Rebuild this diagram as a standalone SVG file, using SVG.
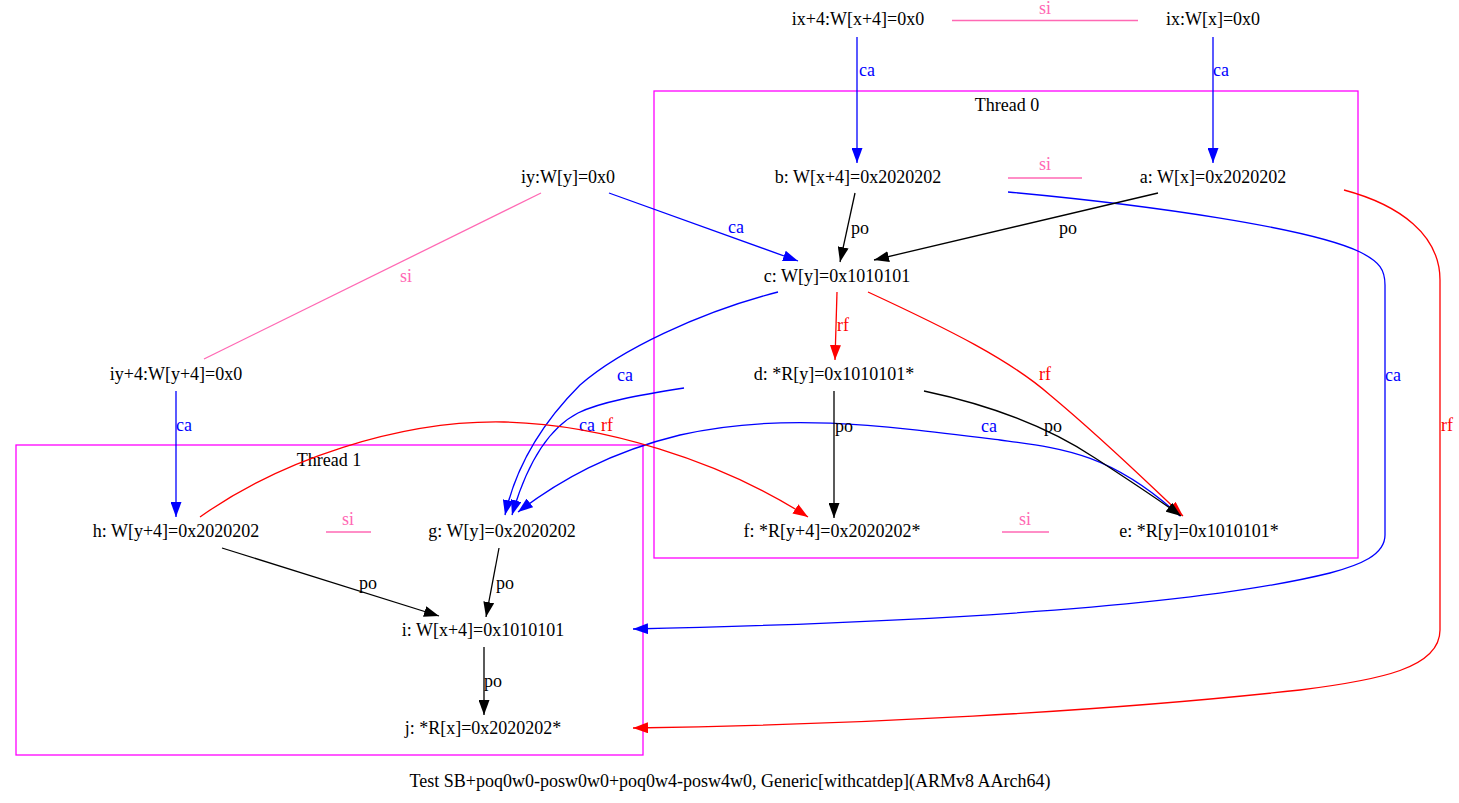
<svg xmlns="http://www.w3.org/2000/svg" width="1459" height="803" viewBox="0 0 1459 803">
<defs>
<style>
text{font-family:"Liberation Serif","Times New Roman",serif;font-size:18px;text-anchor:middle;}
.n{fill:#000;}
.e{fill:none;stroke-width:1.3;}
.blue{stroke:#0000ff;}
.red{stroke:#ff0000;}
.blk{stroke:#000000;}
.pink{stroke:#ff69b4;}
.lb{fill:#0000ff;}
.lr{fill:#ff0000;}
.lk{fill:#000000;}
.lp{fill:#ff69b4;}
.cl{fill:none;stroke:#ff00ff;stroke-width:1.3;}
</style>
<marker id="ab" viewBox="0 0 15 11" refX="15" refY="5.5" markerWidth="15" markerHeight="11" markerUnits="userSpaceOnUse" orient="auto"><path d="M0,0L15,5.5L0,11z" fill="#0000ff"/></marker>
<marker id="ar" viewBox="0 0 15 11" refX="15" refY="5.5" markerWidth="15" markerHeight="11" markerUnits="userSpaceOnUse" orient="auto"><path d="M0,0L15,5.5L0,11z" fill="#ff0000"/></marker>
<marker id="ak" viewBox="0 0 15 11" refX="15" refY="5.5" markerWidth="15" markerHeight="11" markerUnits="userSpaceOnUse" orient="auto"><path d="M0,0L15,5.5L0,11z" fill="#000000"/></marker>
</defs>
<rect width="1459" height="803" fill="#ffffff"/>

<g id="clusters">
<g id="cluster-thread0"><rect class="cl" x="654" y="91" width="704" height="467"/><text class="n" x="1007" y="111">Thread 0</text></g>
<g id="cluster-thread1"><rect class="cl" x="16" y="445" width="627" height="310"/><text class="n" x="329" y="466">Thread 1</text></g>
</g>

<g id="edges">
<!-- si links -->
<line class="e pink" x1="952" y1="20.5" x2="1138" y2="20.5"/><text class="lp" x="1045" y="14">si</text>
<line class="e pink" x1="1008" y1="178" x2="1082" y2="178"/><text class="lp" x="1045" y="170">si</text>
<line class="e pink" x1="541" y1="193" x2="204" y2="359"/><text class="lp" x="406" y="282">si</text>
<line class="e pink" x1="326" y1="532" x2="371" y2="532"/><text class="lp" x="348" y="525">si</text>
<line class="e pink" x1="1002" y1="532" x2="1049" y2="532"/><text class="lp" x="1025" y="525">si</text>

<!-- ca -->
<path class="e blue" d="M857,37L857,163" marker-end="url(#ab)"/><text class="lb" x="867" y="76">ca</text>
<path class="e blue" d="M1213,37L1213,163" marker-end="url(#ab)"/><text class="lb" x="1221" y="76">ca</text>
<path class="e blue" d="M609,193L798,261" marker-end="url(#ab)"/><text class="lb" x="736" y="233">ca</text>
<path class="e blue" d="M176,391L176,517" marker-end="url(#ab)"/><text class="lb" x="184" y="431">ca</text>
<path class="e blue" d="M1008,192C1150,205 1310,228 1360,252C1380,262 1385,270 1385,285L1385,535C1385,555 1360,565 1330,573C1200,605 950,622 633,629" marker-end="url(#ab)"/><text class="lb" x="1393" y="381">ca</text>
<path class="e blue" d="M778,292C700,312 620,350 580,385C540,425 515,470 505,515" marker-end="url(#ab)"/><text class="lb" x="625" y="381">ca</text>
<path class="e blue" d="M684,388C640,395 600,402 578,413C545,430 525,470 512,515" marker-end="url(#ab)"/><text class="lb" x="587" y="431">ca</text>
<path class="e blue" d="M1180,516C1110,452 1060,448 1000,440C880,425 780,412 680,435C610,452 560,480 518,512" marker-end="url(#ab)"/><text class="lb" x="989" y="432">ca</text>

<!-- rf -->
<path class="e red" d="M837,292L835,360" marker-end="url(#ar)"/><text class="lr" x="843" y="331">rf</text>
<path class="e red" d="M868,292C950,330 1010,360 1050,395C1110,445 1160,495 1183,516" marker-end="url(#ar)"/><text class="lr" x="1045" y="380">rf</text>
<path class="e red" d="M200,517C280,460 400,420 504,422C600,424 720,460 808,517" marker-end="url(#ar)"/><text class="lr" x="607" y="431">rf</text>
<path class="e red" d="M1344,190C1400,205 1440,235 1440,280L1440,630C1440,668 1380,680 1300,690C1100,712 850,725 633,728" marker-end="url(#ar)"/><text class="lr" x="1447" y="431">rf</text>

<!-- po -->
<path class="e blk" d="M855,193L840,262" marker-end="url(#ak)"/><text class="lk" x="860" y="234">po</text>
<path class="e blk" d="M1158,193L874,260" marker-end="url(#ak)"/><text class="lk" x="1068" y="234">po</text>
<path class="e blk" d="M834,391L834,518" marker-end="url(#ak)"/><text class="lk" x="844" y="432">po</text>
<path class="e blk" d="M924,391C990,405 1050,428 1095,458C1135,484 1162,502 1181,516" marker-end="url(#ak)"/><text class="lk" x="1053" y="432">po</text>
<path class="e blk" d="M222,548L439,616" marker-end="url(#ak)"/><text class="lk" x="368" y="589">po</text>
<path class="e blk" d="M499,548L486,617" marker-end="url(#ak)"/><text class="lk" x="505" y="589">po</text>
<path class="e blk" d="M484,647L484,715" marker-end="url(#ak)"/><text class="lk" x="493" y="687">po</text>
</g>

<g id="node-ix4"><text class="n" x="858" y="25">ix+4:W[x+4]=0x0</text></g>
<g id="node-ix"><text class="n" x="1213" y="25">ix:W[x]=0x0</text></g>
<g id="node-b"><text class="n" x="858" y="183">b: W[x+4]=0x2020202</text></g>
<g id="node-a"><text class="n" x="1213" y="183">a: W[x]=0x2020202</text></g>
<g id="node-iy"><text class="n" x="568" y="183">iy:W[y]=0x0</text></g>
<g id="node-c"><text class="n" x="837" y="282">c: W[y]=0x1010101</text></g>
<g id="node-d"><text class="n" x="834" y="380">d: *R[y]=0x1010101*</text></g>
<g id="node-iy4"><text class="n" x="176" y="380">iy+4:W[y+4]=0x0</text></g>
<g id="node-h"><text class="n" x="176" y="537">h: W[y+4]=0x2020202</text></g>
<g id="node-g"><text class="n" x="502" y="537">g: W[y]=0x2020202</text></g>
<g id="node-f"><text class="n" x="832" y="537">f: *R[y+4]=0x2020202*</text></g>
<g id="node-e"><text class="n" x="1199" y="537">e: *R[y]=0x1010101*</text></g>
<g id="node-i"><text class="n" x="483" y="636">i: W[x+4]=0x1010101</text></g>
<g id="node-j"><text class="n" x="483" y="734">j: *R[x]=0x2020202*</text></g>

<g id="title"><text class="n" x="730" y="787">Test SB+poq0w0-posw0w0+poq0w4-posw4w0, Generic[withcatdep](ARMv8 AArch64)</text></g>
</svg>
